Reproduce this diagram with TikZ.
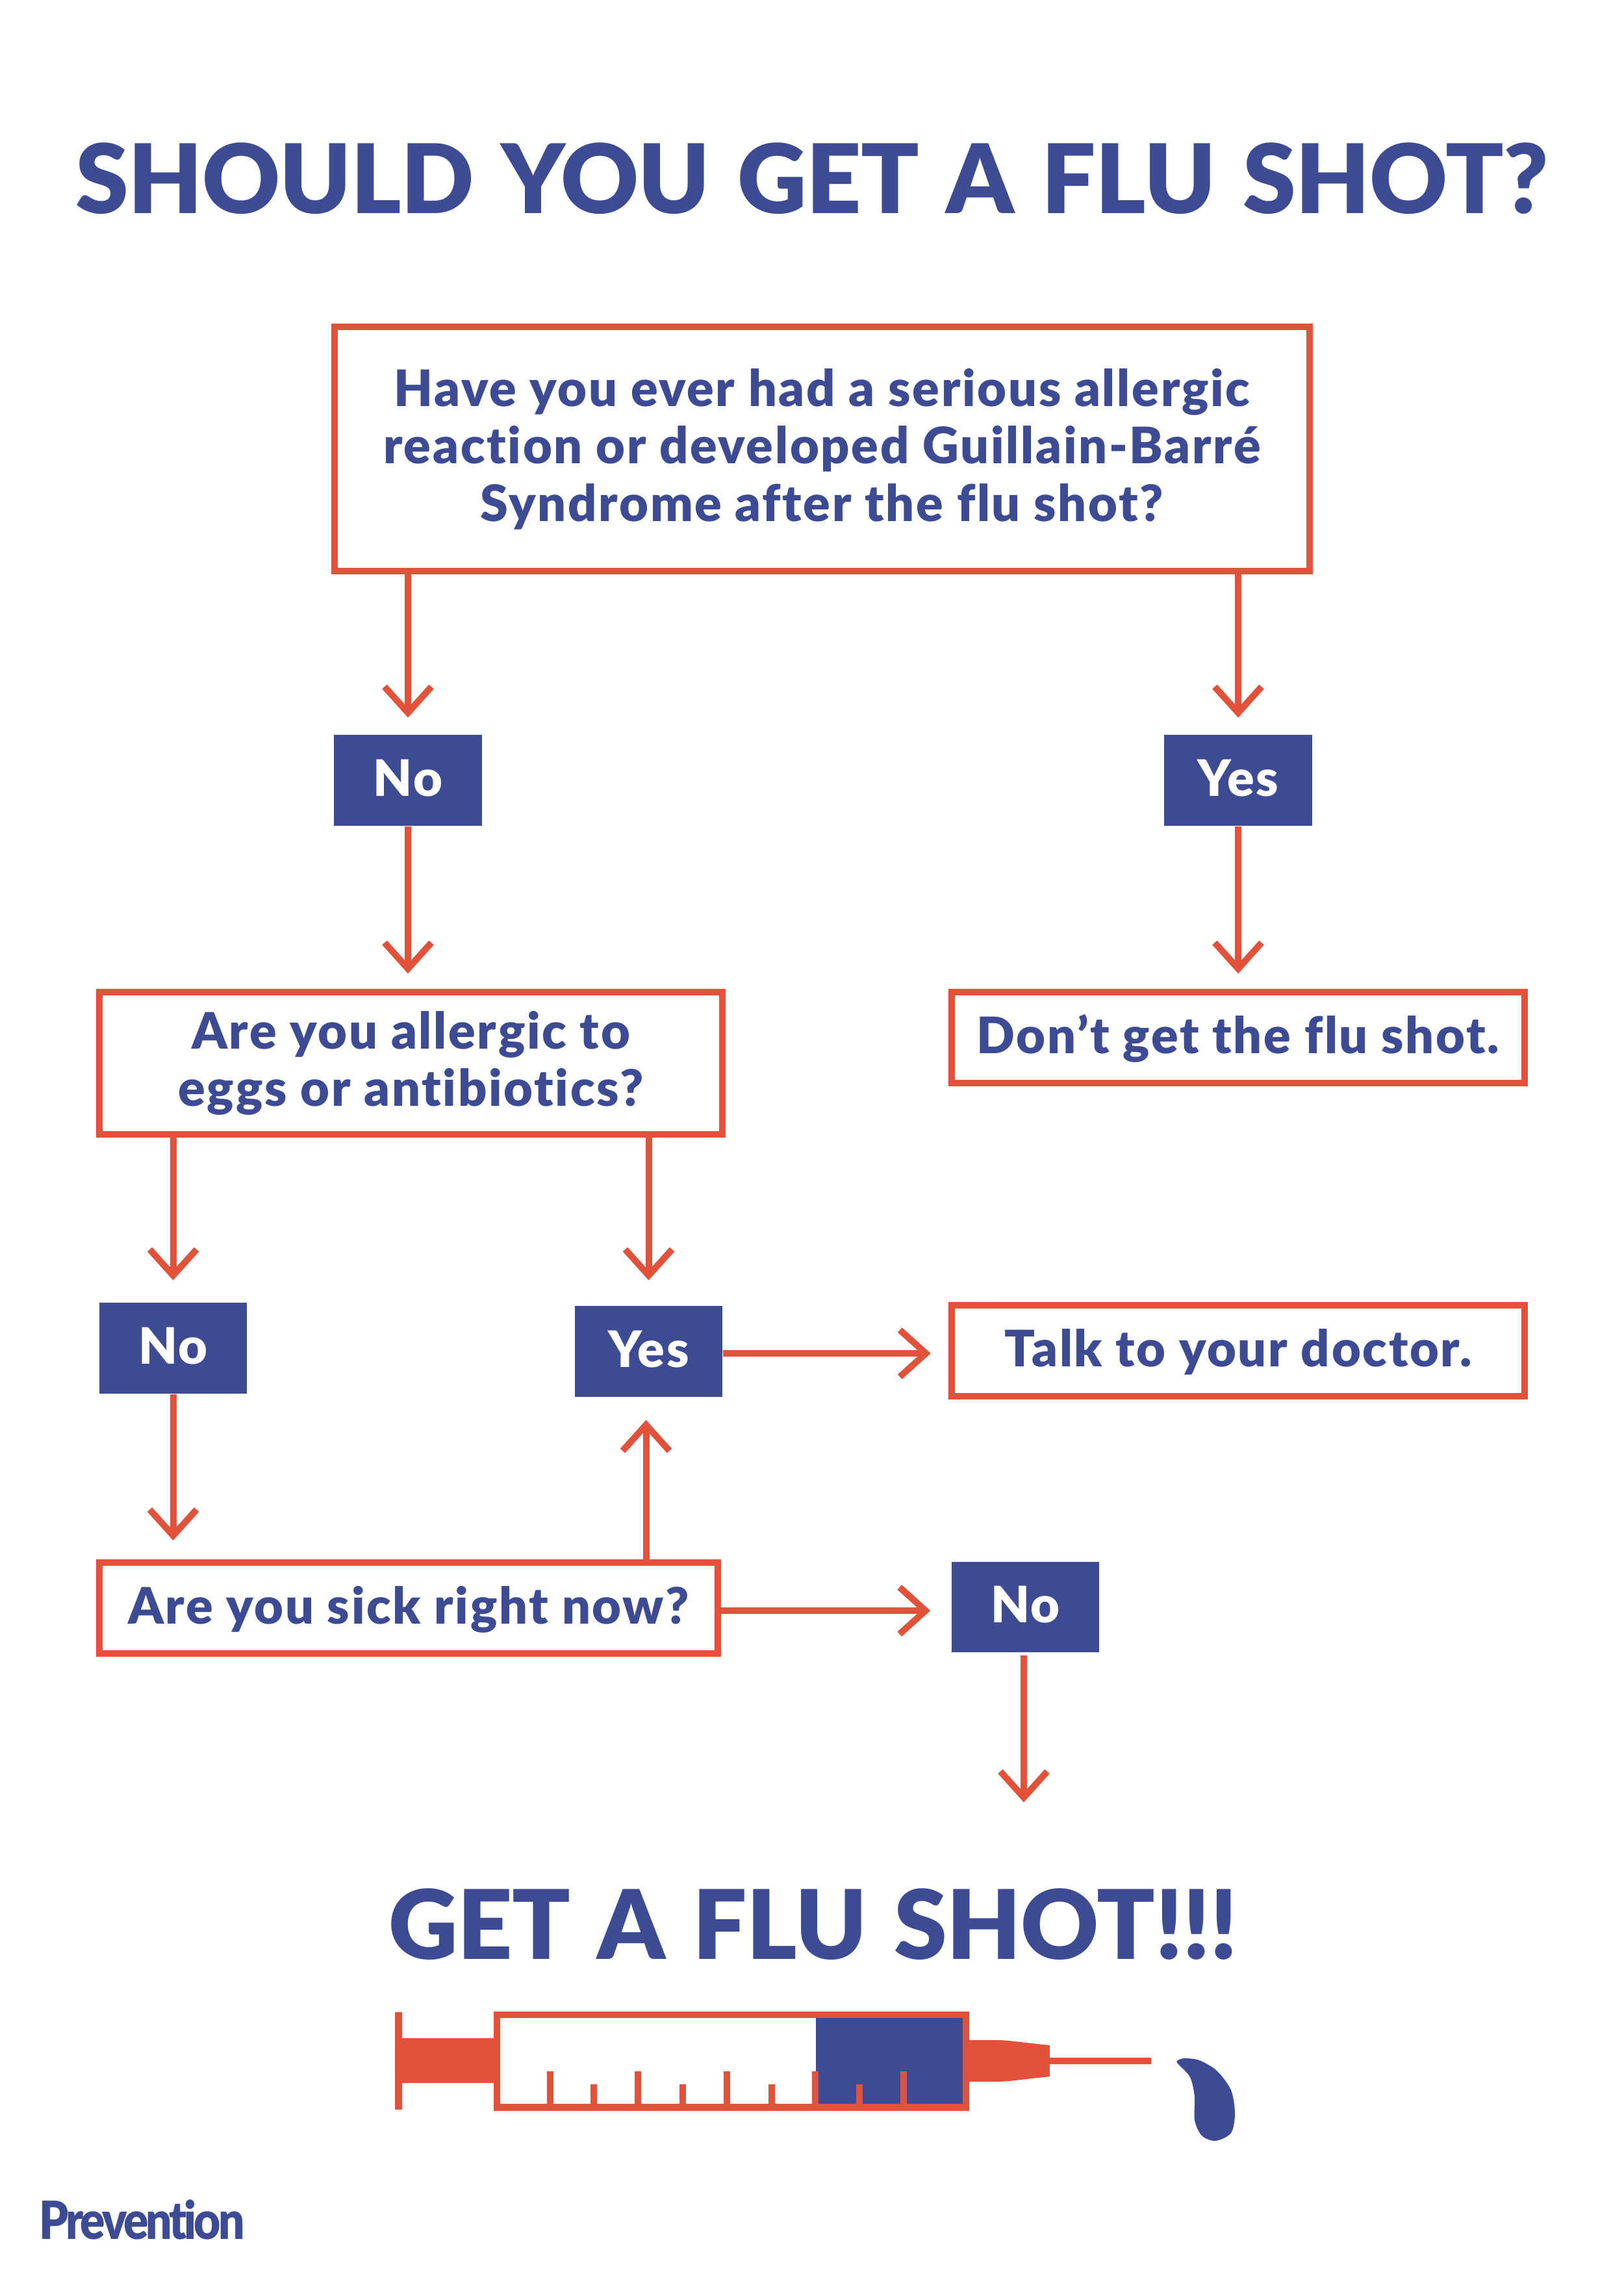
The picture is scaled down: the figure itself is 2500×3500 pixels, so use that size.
\documentclass[tikz,border=0pt]{standalone}
\usepackage{fontspec}
\setmainfont{Lato}
\newfontfamily\flubody{Lato Black}[Ligatures=NoCommon, LetterSpace=3.5]
\newfontfamily\fluhead{Lato Black}[Ligatures=NoCommon, LetterSpace=-.5, WordSpace=1.25]
\newfontfamily\flulogo{Lato Black}[Ligatures=NoCommon, LetterSpace=-5, FakeStretch=.88]
\usetikzlibrary{arrows.meta}
\definecolor{flured}{HTML}{E2513A}
\definecolor{flublue}{HTML}{3D4B94}
\tikzset{every picture/.append style={x=.01cm, y=-.01cm}}
\tikzset{qbox/.style={draw=flured, line width=.1cm, fill=white, text=flublue, align=center, inner sep=0pt, font=\fontsize{22}{25.2}\flubody\selectfont}}
\tikzset{qline/.style={qbox, text height=.56cm, text depth=.08cm}}
\tikzset{answer/.style={fill=flublue, text=white, inner sep=0pt, minimum width=2.27cm, minimum height=1.395cm, text height=.56cm, text depth=.08cm, font=\fontsize{22}{25.2}\flubody\selectfont}}
\tikzset{flow/.style={draw=flured, line width=.1cm, -{Straight Barb[sharp, length=.4cm, width=.72cm]}, shorten >=#1}}
\tikzset{flow/.default=.3cm}
\tikzset{headline/.style={text=flublue, inner sep=0pt, text height=1.05cm, text depth=0pt, font=\fontsize{42}{46}\fluhead\selectfont}}
\begin{document}
\begin{tikzpicture}
  \useasboundingbox (0,0) rectangle (2500,3500);

  \node (title) at (1250,276)[headline]{SHOULD YOU GET A FLU SHOT?};

  \node (q1) at (1265.5,691)[qbox, minimum width=15.01cm, minimum height=3.76cm]{Have you ever had a serious allergic\\reaction or developed Guillain-Barré\\Syndrome after the flu shot?};
  \node (no1) at (628,1201)[answer]{No};
  \node (yes1) at (1906,1201)[answer]{Yes};
  \node (q2) at (632.5,1636.5)[qbox, minimum width=9.59cm, minimum height=2.19cm]{Are you allergic to\\eggs or antibiotics?};
  \node (stop) at (1906,1597)[qline, minimum width=8.82cm, minimum height=1.4cm]{Don’t get the flu shot.};
  \node (no2) at (266.5,2075)[answer]{No};
  \node (yes2) at (998.5,2080)[answer]{Yes};
  \node (talk) at (1906,2079)[qline, minimum width=8.82cm, minimum height=1.4cm]{Talk to your doctor.};
  \node (q3) at (629,2475)[qline, minimum width=9.52cm, minimum height=1.4cm]{Are you sick right now?};
  \node (no3) at (1578.5,2473.5)[answer]{No};
  \coordinate (shot) at (1576,2774);
  \node (go) at (1252,2962.5)[headline]{GET A FLU SHOT!!!};

  \draw[flow=.26cm] (no1 |- q1.south) -- (no1.north);
  \draw[flow=.26cm] (yes1 |- q1.south) -- (yes1.north);
  \draw[flow=.235cm] (no1.south) -- (no1 |- q2.north);
  \draw[flow=.235cm] (yes1.south) -- (stop.north);
  \draw[flow=.34cm] (no2 |- q2.south) -- (no2.north);
  \draw[flow=.39cm] (yes2 |- q2.south) -- (yes2.north);
  \draw[flow=.27cm] ([yshift=-.03cm]yes2.east) -- ([yshift=-.03cm]yes2.east -| talk.west);
  \draw[flow=.29cm] (no2.south) -- (no2 |- q3.north);
  \draw[flow=.35cm] ([xshift=-.04cm]yes2.south |- q3.north) -- ([xshift=-.04cm]yes2.south);
  \draw[flow=.32cm] ([yshift=-.04cm]q3.east) -- ([yshift=-.04cm]q3.east -| no3.west);
  \draw[flow=0pt, shorten <=.04cm] (shot |- no3.south) -- (shot);

  % syringe
  \fill[flured] (608,3097) rectangle (619,3247);
  \fill[flured] (619,3137) rectangle (760,3206);
  \fill[flured] (760,3096) rectangle (1492,3249);
  \fill[white] (770,3106) rectangle (1482,3238);
  \fill[flublue] (1256,3106) rectangle (1482,3238);
  \foreach \x in {847,982,1119,1255,1391} \fill[flured] (\x-5,3188) rectangle (\x+5,3238);
  \foreach \x in {914,1051,1188,1323} \fill[flured] (\x-5,3208) rectangle (\x+5,3238);
  \fill[flured] (1492,3140) -- (1535,3140) .. controls (1550,3140) and (1560,3142) .. (1616,3148) -- (1616,3167) -- (1772,3167) -- (1772,3177) -- (1616,3177) -- (1616,3196) .. controls (1560,3202) and (1550,3204) .. (1535,3204) -- (1492,3204) -- cycle;
  \fill[flublue] plot[smooth cycle] coordinates {(1812,3172) (1823,3168) (1846,3171) (1873,3187) (1895,3217) (1901,3253) (1895,3283) (1871,3295) (1850,3287) (1839,3263) (1839,3227) (1832,3197) (1814,3177)};

  \node (logo) at (60,3446)[anchor=base west, text=flublue, inner sep=0pt, font=\fontsize{23}{25}\flulogo\selectfont]{Prevention};
\end{tikzpicture}
\end{document}
